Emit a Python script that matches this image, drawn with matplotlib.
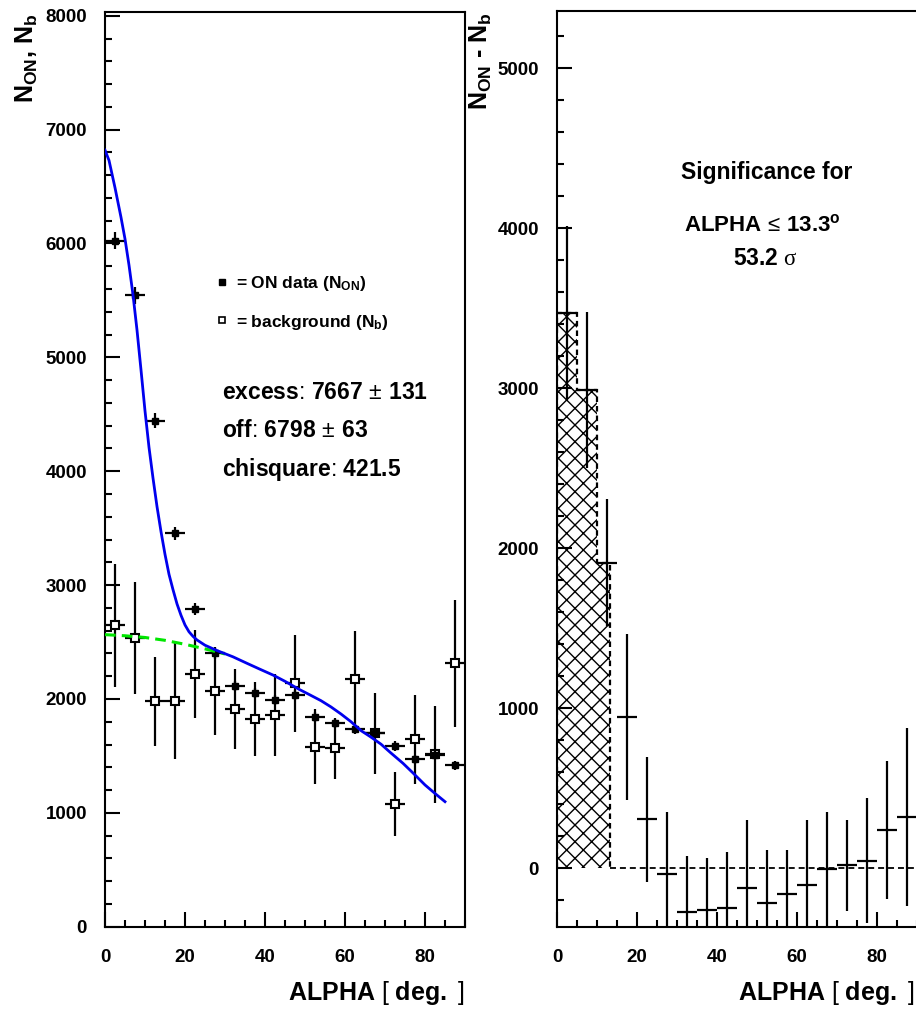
import matplotlib
matplotlib.use("Agg")
import matplotlib.pyplot as plt
import numpy as np
from matplotlib.lines import Line2D
from matplotlib.ticker import MultipleLocator

plt.rcParams['font.family'] = ['Liberation Sans', 'DejaVu Sans']
plt.rcParams['mathtext.fontset'] = 'custom'
plt.rcParams['mathtext.rm'] = 'Liberation Sans'
plt.rcParams['mathtext.bf'] = 'Liberation Sans:bold'
plt.rcParams['mathtext.it'] = 'Liberation Sans:italic'
plt.rcParams['mathtext.sf'] = 'Liberation Serif'
plt.rcParams['hatch.linewidth'] = 1.0

# ALPHA bins (centre, half width 2.5 deg)
alpha = [2.5, 7.5, 12.5, 17.5, 22.5, 27.5, 32.5, 37.5, 42.5,
         47.5, 52.5, 57.5, 62.5, 67.5, 72.5, 77.5, 82.5, 87.5]
half_bin = 2.5

# ON data
on_counts = [6024, 5545, 4445, 3455, 2787, 2400, 2114, 2055, 1991,
             2032, 1839, 1786, 1733, 1704, 1587, 1470, 1510, 1417]
on_err = [75, 74, 67, 59, 53, 49, 46, 45, 45,
          45, 43, 42, 42, 41, 40, 38, 39, 38]

# background
bg_counts = [2647, 2535, 1979, 1985, 2219, 2070, 1909, 1824, 1856,
             2137, 1581, 1566, 2175, 1700, 1078, 1645, 1515, 2313]
bg_err = [540, 490, 390, 510, 390, 385, 350, 325, 360,
          425, 330, 270, 420, 355, 280, 390, 425, 555]

# fit curves
fit_alpha = [0, 1, 2.5, 4, 5, 6, 7, 8, 9, 10, 11, 12, 13, 14, 15, 16, 17, 18,
             19, 20, 21, 22, 23, 25, 28, 32, 35.5, 38.5, 42, 45, 48.5, 51, 54,
             56.5, 59, 61.5, 64, 66.5, 69, 71.5, 74.5, 77, 80, 82.5, 85]
fit_total = [6820, 6730, 6490, 6230, 6040, 5810, 5550, 5240, 4890, 4530, 4210,
             3940, 3690, 3470, 3270, 3095, 2960, 2835, 2735, 2650, 2590, 2550,
             2518, 2472, 2425, 2370, 2313, 2265, 2210, 2155, 2085, 2040, 1985,
             1930, 1868, 1800, 1722, 1665, 1603, 1525, 1435, 1350, 1245, 1170,
             1098]
bgfit_alpha = [0, 5, 10, 15, 20, 25, 30]
bgfit_vals = [2565, 2555, 2540, 2515, 2480, 2440, 2395]

# excess = N_ON - N_b
excess = [3473, 2989, 1910, 944, 306, -36, -271, -260, -246,
          -123, -219, -161, -102, -2, 19, 48, 240, 319]
excess_err = [540, 490, 395, 520, 390, 385, 345, 322, 345,
              425, 333, 275, 405, 356, 285, 390, 430, 557]

# signal region ALPHA <= 13.3
cut_edges = [0, 5, 10, 13.3]
cut_excess = [3473, 2989, 1910]

fig = plt.figure(figsize=(9.16, 10.10), dpi=100)

# ---------- left panel ----------
ax1 = fig.add_axes([105/916, 1 - 926.7/1010, 360/916, 914.7/1010])
ax1.errorbar(alpha, bg_counts, xerr=half_bin, yerr=bg_err, fmt='s', ms=5.5,
             mfc='white', mec='black', mew=1.5, ecolor='black',
             elinewidth=1.6, capsize=0, zorder=2)
ax1.errorbar(alpha, on_counts, xerr=half_bin, yerr=on_err, fmt='s', ms=5,
             color='black', elinewidth=1.6, capsize=0, zorder=3)
ax1.plot(bgfit_alpha, bgfit_vals, color='#00e600', lw=2.2,
         ls=(0, (3.5, 2)), zorder=4)
ax1.plot(fit_alpha, fit_total, color='#0000ee', lw=2.0, zorder=4)
ax1.set_xlim(0, 90)
ax1.set_ylim(0, 8033)

handles = [Line2D([], [], marker='s', ls='none', color='black', ms=4.5),
           Line2D([], [], marker='s', ls='none', mfc='white', mec='black',
                  mew=1.2, ms=4.5)]
ax1.legend(handles, [r'= ON data ($\mathbf{N_{ON}}$)',
                     r'= background ($\mathbf{N_{b}}$)'],
           loc='upper left', bbox_to_anchor=(0.306, 0.714), frameon=False,
           borderaxespad=0, borderpad=0, handlelength=0.8,
           handletextpad=0.4, labelspacing=1.15,
           prop=dict(size=12.5, weight='bold'))

ax1.text(0.325, 0.5835,
         r'$\mathbf{excess}$: $\mathbf{7667}\,\pm\,\mathbf{131}$',
         transform=ax1.transAxes, fontsize=16.5, va='center', ha='left')
ax1.text(0.325, 0.543, r'$\mathbf{off}$: $\mathbf{6798}\,\pm\,\mathbf{63}$',
         transform=ax1.transAxes, fontsize=16.5, va='center', ha='left')
ax1.text(0.325, 0.4995, r'$\mathbf{chisquare}$: $\mathbf{421.5}$',
         transform=ax1.transAxes, fontsize=16.5, va='center', ha='left')

# ---------- right panel ----------
ax2 = fig.add_axes([557/916, 1 - 927/1010, 360/916, 916/1010])
ax2.stairs(cut_excess, cut_edges, baseline=0, fill=True, facecolor='none',
           edgecolor='black', hatch='xx', linewidth=0, zorder=1)
ax2.stairs(cut_excess, cut_edges, baseline=0, fill=False, color='black',
           linestyle=(0, (2.5, 1.8)), linewidth=1.6, zorder=1)
ax2.hlines(0, cut_edges[-1], 90, colors='black', linestyles=(0, (3.3, 2.2)),
           lw=1.3, zorder=1)
ax2.errorbar(alpha, excess, xerr=half_bin, yerr=excess_err, fmt='none',
             ecolor='black', elinewidth=1.6, capsize=0, zorder=3)
ax2.set_xlim(0, 90)
ax2.set_ylim(-367, 5358)
ax2.spines['right'].set_visible(False)

ax2.text(0.583, 0.824, 'Significance for', transform=ax2.transAxes,
         fontsize=16.5, fontweight='bold', ha='center', va='center')
ax2.text(0.57, 0.766, r'$\mathbf{ALPHA}\,\leq\,\mathbf{13.3^{o}}$',
         transform=ax2.transAxes, fontsize=16, ha='center', va='center')
ax2.text(0.578, 0.730, r'$\mathbf{53.2}\ \mathsf{\sigma}$',
         transform=ax2.transAxes, fontsize=16.5, ha='center', va='center')

for ax in (ax1, ax2):
    ax.xaxis.set_major_locator(MultipleLocator(20))
    ax.xaxis.set_minor_locator(MultipleLocator(5))
    ax.yaxis.set_major_locator(MultipleLocator(1000))
    ax.yaxis.set_minor_locator(MultipleLocator(200))
    ax.tick_params(which='both', direction='in', top=False, right=False,
                   width=1.5)
    ax.tick_params(which='major', length=10.5)
    ax.tick_params(which='minor', length=5)
    ax.tick_params(axis='y', pad=13)
    ax.tick_params(axis='x', pad=16)
    for lab in ax.get_xticklabels() + ax.get_yticklabels():
        lab.set_fontsize(13.5)
        lab.set_fontweight('bold')
    for sp in ax.spines.values():
        sp.set_linewidth(1.5)

# axis titles
fig.text(27/916, 0.987, r'$\mathbf{N_{ON}}$, $\mathbf{N_{b}}$', rotation=90,
         fontsize=18, fontweight='bold', ha='center', va='top')
fig.text(481/916, 0.988, r'$\mathbf{N_{ON}}$ - $\mathbf{N_{b}}$', rotation=90,
         fontsize=18, fontweight='bold', ha='center', va='top')
fig.text(465/916, 1 - 1000/1010, r'$\mathbf{ALPHA}$ [ $\mathbf{deg.}$ ]',
         fontsize=18, ha='right', va='baseline')
fig.text(915/916, 1 - 1000/1010, r'$\mathbf{ALPHA}$ [ $\mathbf{deg.}$ ]',
         fontsize=18, ha='right', va='baseline')

fig.savefig('out.png', dpi=100)
